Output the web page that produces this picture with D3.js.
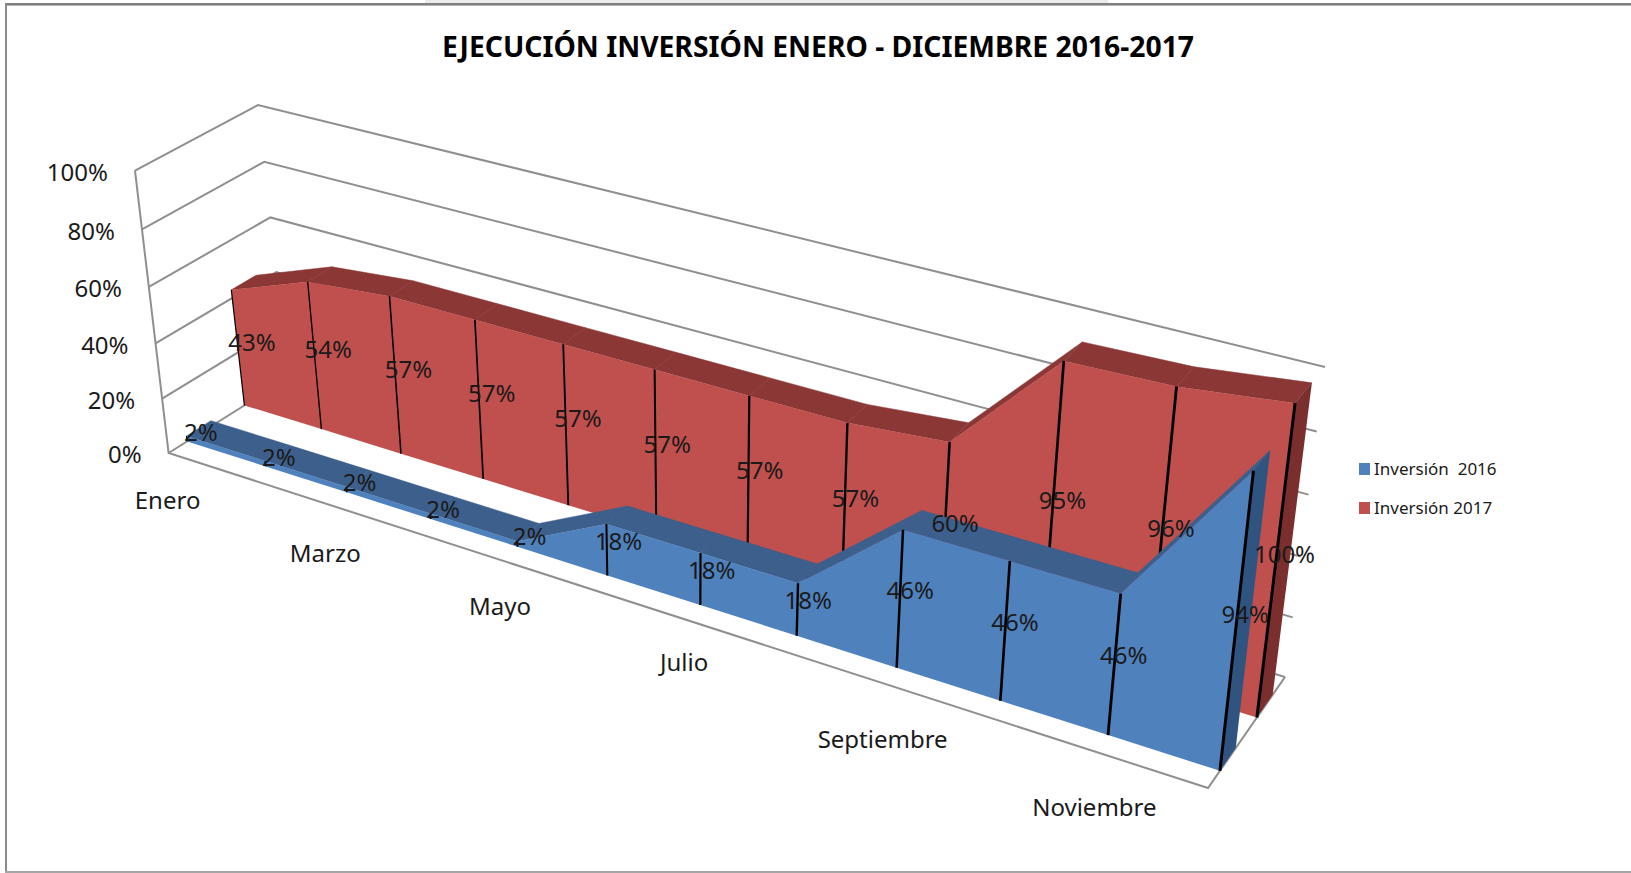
<!DOCTYPE html>
<html>
<head>
  <meta charset="utf-8">
  <script src="https://d3js.org/d3.v7.min.js"></script>
  <title>Ejecución inversión</title>
  <style>
    html, body { margin: 0; padding: 0; background: #fff; }
    svg { display: block; }
    text { font-family: "Noto Sans", sans-serif; fill: #1a1a1a; white-space: pre; }
    .grid { fill: none; stroke: #8f8f8f; stroke-width: 2; }
  </style>
</head>
<body>
  <div id="chart"></div>
  <script>
    const months = ["Enero", "Febrero", "Marzo", "Abril", "Mayo", "Junio", "Julio", "Agosto", "Septiembre", "Octubre", "Noviembre", "Diciembre"];
    const inversion2016 = [2, 2, 2, 2, 2, 18, 18, 18, 46, 46, 46, 94];
    const inversion2017 = [43, 54, 57, 57, 57, 57, 57, 57, 60, 95, 96, 100];
    const pctTicks = [0, 20, 40, 60, 80, 100];
    const legendNames = ["Inversión  2016", "Inversión 2017"];

    const width = 1631, height = 873;

    // corners of the 3D box on screen: floor and top, front and back
    const box = {
      frontLeft0: [168.6, 453], frontLeft1: [135, 170.7],
      backLeft0: [288, 378], backLeft1: [258, 105],
      frontRight0: [1208, 788], frontRight1: [1243, 466],
      backRight0: [1285, 677], backRight1: [1325, 367]
    };

    const monthScale = d3.scaleLinear().domain([0, 11]).range([0, 1]);
    const pctScale = d3.scaleLinear().domain([0, 100]).range([0, 1]);
    const lineWidth = d3.scaleLinear().domain([0, 11]).range([1.2, 3]);

    // perspective: months widen towards the viewer, heights towards the top
    function warp(t, k) {
      return t / (t + k * (1 - t));
    }

    function mix(a, b, t) {
      return [a[0] + (b[0] - a[0]) * t, a[1] + (b[1] - a[1]) * t];
    }

    function project(i, w, v) {
      const u = warp(monthScale(i), 1.215), h = warp(pctScale(v), 1.05);
      const left = mix(mix(box.frontLeft0, box.backLeft0, w), mix(box.frontLeft1, box.backLeft1, w), h);
      const right = mix(mix(box.frontRight0, box.backRight0, w), mix(box.frontRight1, box.backRight1, w), h);
      return mix(left, right, u);
    }

    const poly = d3.line().curve(d3.curveLinearClosed);

    const svg = d3.select("#chart").append("svg")
      .attr("width", width)
      .attr("height", height);

    // window frame
    svg.append("rect").attr("x", 425).attr("y", 0).attr("width", 683).attr("height", 3).attr("fill", "#ececec");
    svg.append("rect").attr("x", 5).attr("y", 3).attr("width", width - 5).attr("height", 2).attr("fill", "#7f7f7f");
    svg.append("rect").attr("x", 5).attr("y", 5).attr("width", width - 5).attr("height", 1).attr("fill", "#b5b5b5");
    svg.append("rect").attr("x", 5).attr("y", 3).attr("width", 2).attr("height", height - 3).attr("fill", "#8c8c8c");
    svg.append("rect").attr("x", 5).attr("y", 871).attr("width", width - 5).attr("height", 2).attr("fill", "#a6a6a6");

    svg.append("text")
      .attr("x", 818)
      .attr("y", 57)
      .attr("text-anchor", "middle")
      .attr("font-size", 29)
      .attr("font-weight", 700)
      .attr("textLength", 752)
      .attr("lengthAdjust", "spacingAndGlyphs")
      .style("fill", "#000")
      .text("EJECUCIÓN INVERSIÓN ENERO - DICIEMBRE 2016-2017");

    // walls and floor
    const grid = svg.append("g").attr("class", "grid");
    pctTicks.forEach(function (t) {
      grid.append("path").attr("d", d3.line()([project(0, 0, t), project(0, 1, t), project(11, 1, t)]));
    });
    grid.append("path").attr("d", d3.line()([project(0, 0, 100), project(0, 0, 0), project(11, 0, 0), project(11, 1, 0)]));

    // draw one area band: top and end faces first, then the front
    function drawBand(values, w0, w1, colours) {
      const g = svg.append("g");

      values.forEach(function (v, i) {
        if (i === 0) return;
        g.append("path")
          .attr("d", poly([project(i - 1, w0, values[i - 1]), project(i, w0, v), project(i, w1, v), project(i - 1, w1, values[i - 1])]))
          .attr("fill", colours.top)
          .attr("stroke", colours.top)
          .attr("stroke-width", 0.5);
      });

      const last = values.length - 1;
      g.append("path")
        .attr("d", poly([project(last, w0, values[last]), project(last, w1, values[last]), project(last, w1, 0), project(last, w0, 0)]))
        .attr("fill", colours.side);

      const front = values.map(function (v, i) { return project(i, w0, v); })
        .concat(values.map(function (v, i) { return project(i, w0, 0); }).reverse());
      g.append("path")
        .attr("d", poly(front))
        .attr("fill", colours.front);

      values.forEach(function (v, i) {
        g.append("path")
          .attr("d", d3.line()([project(i, w0, v), project(i, w0, 0)]))
          .attr("stroke", "#000")
          .attr("stroke-width", lineWidth(i));
      });
    }

    drawBand(inversion2017, 0.635, 0.84, { front: "#c0504d", top: "#8a3735", side: "#7a2f2e" });
    drawBand(inversion2016, 0.155, 0.36, { front: "#4f81bd", top: "#3d5f8c", side: "#2f5480" });

    // data labels sit at the middle of each drop line
    function drawLabels(values, w0) {
      values.forEach(function (v, i) {
        const p = project(i, w0, v / 2);
        svg.append("text")
          .attr("x", p[0] + 14 - 5 * monthScale(i))
          .attr("y", p[1] - 6 - 4 * monthScale(i))
          .attr("dy", "0.35em")
          .attr("text-anchor", "middle")
          .attr("font-size", 24)
          .text(v + "%");
      });
    }
    drawLabels(inversion2017, 0.635);
    drawLabels(inversion2016, 0.155);

    // value axis
    pctTicks.forEach(function (t) {
      const p = project(0, 0, t);
      svg.append("text")
        .attr("x", p[0] - 27)
        .attr("y", p[1] + 2)
        .attr("dy", "0.35em")
        .attr("text-anchor", "end")
        .attr("font-size", 24)
        .text(t + "%");
    });

    // month axis, every second month, nudged by hand where the original drifts
    const monthNudge = { 0: [-1, 48], 2: [-4, 49], 4: [-1, 46], 6: [-1, 43], 8: [0, 56], 10: [-1, 56] };
    months.forEach(function (m, i) {
      if (i % 2 !== 0) return;
      const p = project(i, 0, 0);
      svg.append("text")
        .attr("x", p[0] + monthNudge[i][0])
        .attr("y", p[1] + monthNudge[i][1])
        .attr("dy", "0.35em")
        .attr("text-anchor", "middle")
        .attr("font-size", 24)
        .text(m);
    });

    // legend
    const legendColour = d3.scaleOrdinal().domain(legendNames).range(["#4f81bd", "#c0504d"]);
    const legendY = d3.scalePoint().domain(legendNames).range([469, 508]);
    legendNames.forEach(function (name) {
      svg.append("rect")
        .attr("x", 1359)
        .attr("y", legendY(name) - 6)
        .attr("width", 11)
        .attr("height", 12)
        .attr("fill", legendColour(name));
      svg.append("text")
        .attr("x", 1374)
        .attr("y", legendY(name))
        .attr("dy", "0.35em")
        .attr("font-size", 17)
        .text(name);
    });
  </script>
</body>
</html>
